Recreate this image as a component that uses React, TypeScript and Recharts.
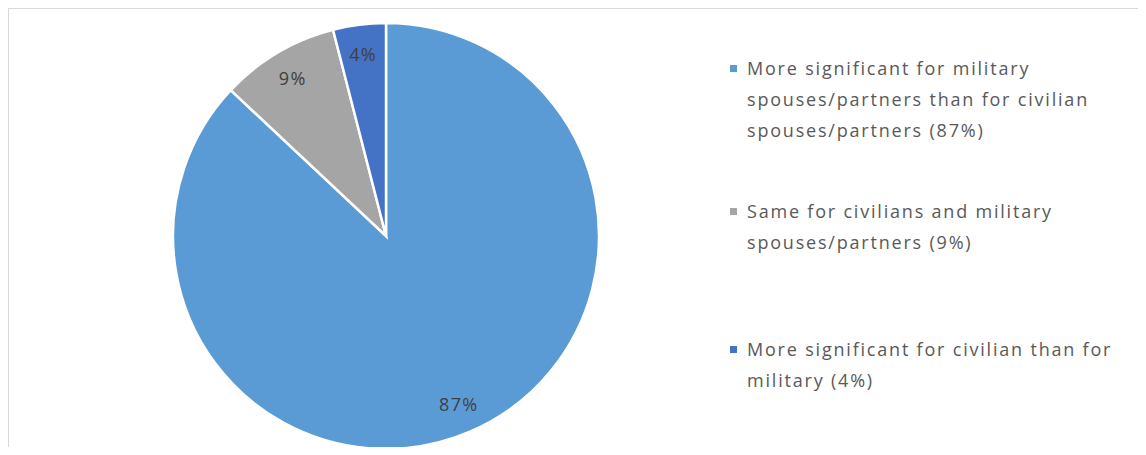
import React from "react";
import { PieChart, Pie, Cell } from "recharts";

const categories = [
  "More significant for military spouses/partners than for civilian spouses/partners (87%)",
  "Same for civilians and military spouses/partners (9%)",
  "More significant for civilian than for military (4%)",
];
const shares = [87, 9, 4];
const sliceLabels = ["87%", "9%", "4%"];

const colors = ["#5B9BD5", "#A5A5A5", "#4472C4"];
const legendTops = [44, 187, 325];

const data = categories.map((name, i) => ({ name, value: shares[i], label: sliceLabels[i] }));

const RADIAN = Math.PI / 180;
const font = "'Open Sans', sans-serif";

const renderLabel = (props: any) => {
  const { cx, cy, midAngle, outerRadius, index } = props;
  const r = outerRadius * 0.86;
  const x = cx + r * Math.cos(-midAngle * RADIAN);
  const y = cy + r * Math.sin(-midAngle * RADIAN);
  return (
    <text
      x={x}
      y={y}
      textAnchor="middle"
      dominantBaseline="central"
      fontSize={18}
      letterSpacing={1.3}
      fill="#404040"
      fontFamily={font}
    >
      {data[index].label}
    </text>
  );
};

export default function App() {
  return (
    <div
      style={{
        position: "relative",
        width: 1138,
        height: 439,
        borderTop: "1px solid #d9d9d9",
        borderLeft: "1px solid #d9d9d9",
        boxSizing: "border-box",
        overflow: "hidden",
      }}
    >
      <PieChart width={700} height={438} margin={{ top: 0, right: 0, bottom: 0, left: 0 }}>
        <Pie
          data={data}
          dataKey="value"
          nameKey="name"
          cx={377}
          cy={227}
          outerRadius={213}
          startAngle={90}
          endAngle={-270}
          stroke="#ffffff"
          strokeWidth={2.5}
          label={renderLabel}
          labelLine={false}
          isAnimationActive={false}
        >
          {data.map((_, i) => (
            <Cell key={`cell-${i}`} fill={colors[i]} />
          ))}
        </Pie>
      </PieChart>
      {data.map((d, i) => (
        <div
          key={d.name}
          style={{
            position: "absolute",
            top: legendTops[i],
            left: 721,
            width: 420,
            display: "flex",
            alignItems: "flex-start",
          }}
        >
          <span
            style={{
              display: "inline-block",
              width: 7,
              height: 7,
              background: colors[i],
              marginTop: 12,
              marginRight: 10,
              flexShrink: 0,
            }}
          />
          <span
            style={{
              fontFamily: font,
              fontSize: 18,
              letterSpacing: 1.8,
              lineHeight: "31px",
              color: "#595959",
              width: 395,
            }}
          >
            {d.name}
          </span>
        </div>
      ))}
    </div>
  );
}
